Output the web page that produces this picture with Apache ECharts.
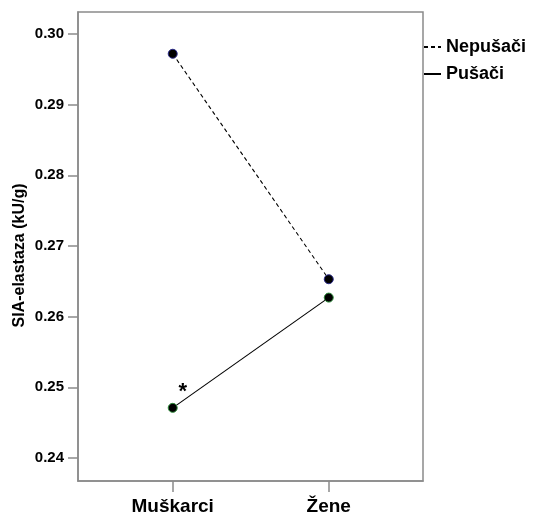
<!DOCTYPE html>
<html>
<head>
<meta charset="utf-8">
<script src="https://cdn.jsdelivr.net/npm/echarts@6/dist/echarts.min.js"></script>
<style>
html,body{margin:0;padding:0;background:#fff;}
#main{width:534px;height:515px;}
</style>
</head>
<body>
<div id="main"></div>
<script>
// Data
const categories = ['Muškarci', 'Žene'];
const seriesNames = ['Nepušači', 'Pušači'];
const nepusaci = [0.2972, 0.2653];
const pusaci = [0.2471, 0.2627];
const pusaciNotes = ['*', ''];
const yTicks = [0.24, 0.25, 0.26, 0.27, 0.28, 0.29, 0.30];

const font = '"Liberation Sans", Arial, sans-serif';
const axisColor = '#8a8a8a';

const chart = echarts.init(document.getElementById('main'), null, {renderer: 'canvas'});

function pts(vals, notes) {
  return vals.map((v, i) => {
    const item = {value: [i, v]};
    if (notes && notes[i]) {
      item.label = {
        show: true, formatter: notes[i], position: 'top', offset: [10, 5],
        fontSize: 22, fontWeight: 'bold', color: '#000', fontFamily: font
      };
    }
    return item;
  });
}

chart.setOption({
  animation: false,
  backgroundColor: '#fff',
  grid: {
    left: 78, top: 12, right: 111, bottom: 34,
    outerBoundsMode: 'none', containLabel: false,
    show: true, borderColor: axisColor, borderWidth: 1.5, backgroundColor: 'transparent'
  },
  legend: {
    orient: 'vertical', left: 423, top: 38, padding: 0,
    itemWidth: 17, itemHeight: 14, itemGap: 9,
    data: seriesNames,
    itemStyle: {opacity: 0},
    textStyle: {fontSize: 18, fontWeight: 'bold', color: '#000', fontFamily: font}
  },
  xAxis: {
    type: 'value', min: -0.607, max: 1.604,
    splitLine: {show: false},
    axisLine: {show: true, onZero: false, lineStyle: {color: axisColor, width: 1.5}},
    axisTick: {show: true, inside: false, length: 11, customValues: [0, 1], lineStyle: {color: axisColor, width: 1.5}},
    axisLabel: {
      customValues: [0, 1], margin: 16,
      formatter: v => categories[Math.round(v)] || '',
      fontSize: 19, fontWeight: 'bold', color: '#000', fontFamily: font
    }
  },
  yAxis: {
    type: 'value', min: 0.23675, max: 0.30311,
    name: 'SIA-elastaza (kU/g)', nameLocation: 'middle', nameGap: 50,
    nameMoveOverlap: false,
    nameTextStyle: {fontSize: 16, fontWeight: 'bold', color: '#000', fontFamily: font, padding: [0, 18, 0, 0]},
    splitLine: {show: false},
    axisLine: {show: true, onZero: false, lineStyle: {color: axisColor, width: 1.5}},
    axisTick: {show: true, inside: false, length: 10, customValues: yTicks, lineStyle: {color: axisColor, width: 1.5}},
    axisLabel: {
      customValues: yTicks, margin: 14,
      formatter: v => v.toFixed(2),
      fontSize: 15, fontWeight: 'bold', color: '#000', fontFamily: font
    }
  },
  series: [
    {
      name: seriesNames[0], type: 'line', data: pts(nepusaci),
      symbol: 'circle', symbolSize: 9,
      lineStyle: {color: '#000', width: 1.1, type: [4, 3]},
      itemStyle: {color: '#000', borderColor: '#2a2a8a', borderWidth: 1}
    },
    {
      name: seriesNames[1], type: 'line', data: pts(pusaci, pusaciNotes),
      symbol: 'circle', symbolSize: 9,
      lineStyle: {color: '#000', width: 1.1, type: 'solid'},
      itemStyle: {color: '#000', borderColor: '#2e8b3a', borderWidth: 1}
    }
  ]
});
</script>
</body>
</html>
